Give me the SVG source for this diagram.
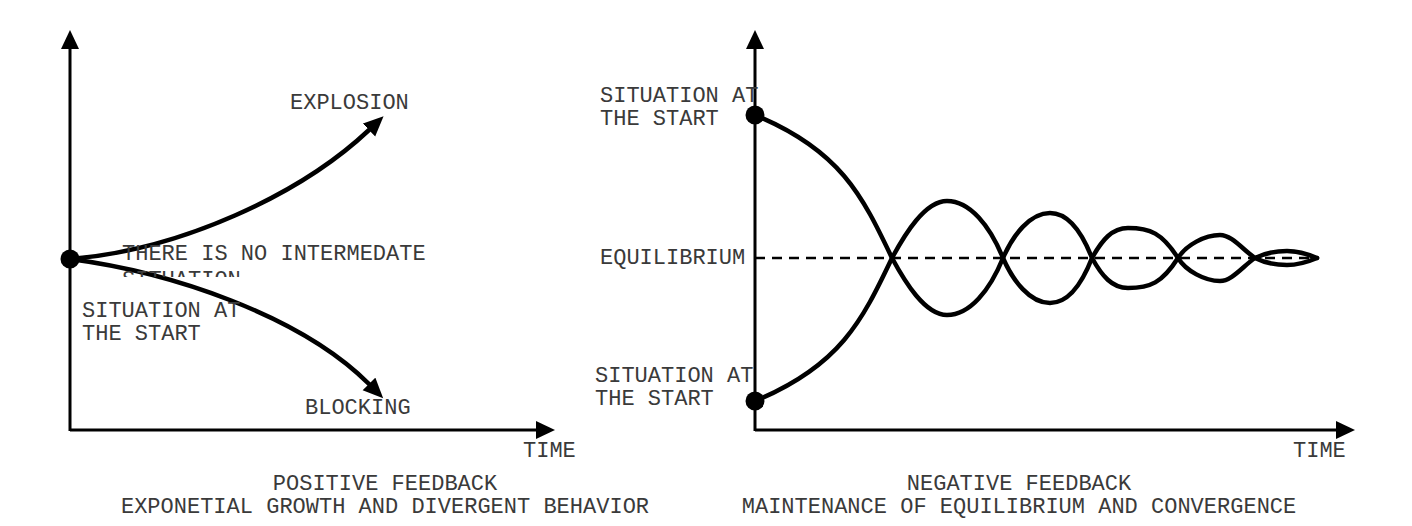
<svg xmlns="http://www.w3.org/2000/svg" width="1412" height="526" viewBox="0 0 1412 526">
  <style>
    .lbl { font-family: "Liberation Mono", "Courier New", monospace; font-size: 22px; fill: #3a3a3a; }
    .mid { text-anchor: middle; }
    .axis { stroke: #000; stroke-width: 3; fill: none; }
    .curve { stroke: #000; stroke-width: 4.5; fill: none; stroke-linecap: round; }
    .head { fill: #000; }
    .dash { stroke: #000; stroke-width: 2.5; stroke-dasharray: 10 7; fill: none; }
  </style>
  <defs>
    <marker id="arrow" markerUnits="userSpaceOnUse" markerWidth="22" markerHeight="20" refX="0" refY="9" orient="auto">
      <path d="M0,0 L20,9 L0,18 Z" fill="#000"/>
    </marker>
    <clipPath id="clipNote">
      <rect x="110" y="235" width="340" height="42"/>
    </clipPath>
  </defs>
  <rect width="1412" height="526" fill="#fff"/>

  <g id="left-axes">
    <line class="axis" x1="70" y1="431" x2="70" y2="46"/>
    <polygon class="head" points="70,30 61,49 79,49"/>
    <line class="axis" x1="70" y1="430" x2="539" y2="430"/>
    <polygon class="head" points="555,430 536,421 536,439"/>
  </g>

  <g id="connectors">
    <path class="curve" d="M70,259 C180,250 300,195 369,130" marker-end="url(#arrow)"/>
    <path class="curve" d="M70,259 C170,272 300,315 369,384" marker-end="url(#arrow)"/>
    <path class="dash" d="M755,258 L1318,258"/>
    <path class="curve" d="M755,115 C840,150 862,195 892,258 C905,282 925,315 947,315 C970,315 990,290 1003,258 C1013,235 1030,213 1050,213 C1070,213 1083,235 1092,258 C1102,276 1112,288 1128,288 C1150,288 1162,283 1178,258 C1186,245 1205,235 1220,235 C1232,235 1243,250 1255,258 C1265,263 1275,265 1287,265 C1300,265 1310,261 1317,258"/>
    <path class="curve" d="M755,401 C840,366 862,321 892,258 C905,234 925,201 947,201 C970,201 990,226 1003,258 C1013,281 1030,303 1050,303 C1070,303 1083,281 1092,258 C1102,240 1112,228 1128,228 C1150,228 1162,233 1178,258 C1186,271 1205,281 1220,281 C1232,281 1243,266 1255,258 C1265,253 1275,251 1287,251 C1300,251 1310,255 1317,258"/>
  </g>

  <g id="left-start">
    <circle cx="70" cy="259" r="9.5" fill="#000"/>
    <text class="lbl" x="82" y="317">SITUATION AT</text>
    <text class="lbl" x="82" y="340">THE START</text>
  </g>
  <g id="explosion">
    <text class="lbl" x="290" y="109">EXPLOSION</text>
  </g>
  <g id="blocking">
    <text class="lbl" x="305" y="414">BLOCKING</text>
  </g>
  <g id="note" clip-path="url(#clipNote)">
    <text class="lbl" x="122" y="260">THERE IS NO INTERMEDATE</text>
    <text class="lbl" x="122" y="286">SITUATION</text>
  </g>
  <g id="left-time">
    <text class="lbl" x="523" y="457">TIME</text>
  </g>
  <g id="left-caption">
    <text class="lbl mid" x="385" y="490">POSITIVE FEEDBACK</text>
    <text class="lbl mid" x="385" y="513">EXPONETIAL GROWTH AND DIVERGENT BEHAVIOR</text>
  </g>

  <g id="right-axes">
    <line class="axis" x1="755" y1="431" x2="755" y2="46"/>
    <polygon class="head" points="755,30 746,49 764,49"/>
    <line class="axis" x1="755" y1="430" x2="1339" y2="430"/>
    <polygon class="head" points="1355,430 1336,421 1336,439"/>
  </g>
  <g id="right-start-top">
    <circle cx="755" cy="115" r="9.5" fill="#000"/>
    <text class="lbl" x="600" y="102">SITUATION AT</text>
    <text class="lbl" x="600" y="125">THE START</text>
  </g>
  <g id="equilibrium">
    <text class="lbl" x="600" y="264">EQUILIBRIUM</text>
  </g>
  <g id="right-start-bottom">
    <circle cx="755" cy="401" r="9.5" fill="#000"/>
    <text class="lbl" x="595" y="382">SITUATION AT</text>
    <text class="lbl" x="595" y="405">THE START</text>
  </g>
  <g id="right-time">
    <text class="lbl" x="1293" y="457">TIME</text>
  </g>
  <g id="right-caption">
    <text class="lbl mid" x="1019" y="490">NEGATIVE FEEDBACK</text>
    <text class="lbl mid" x="1019" y="513">MAINTENANCE OF EQUILIBRIUM AND CONVERGENCE</text>
  </g>
</svg>
